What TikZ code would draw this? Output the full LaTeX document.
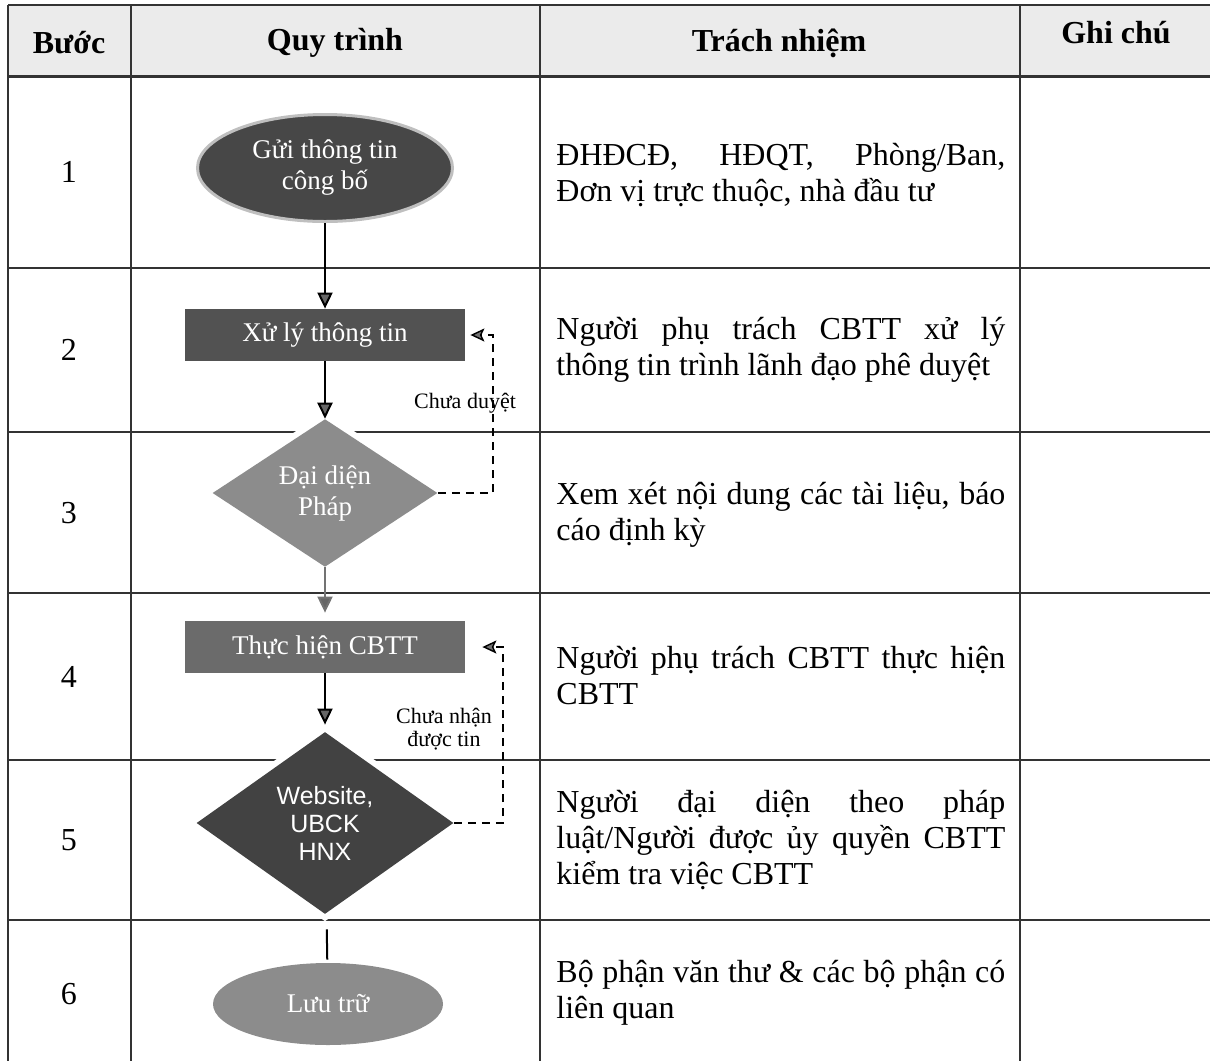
\documentclass[tikz,border=0pt]{standalone}
\usepackage{fontspec}
\setmainfont{Liberation Serif}
\newfontfamily\arialfont{Liberation Sans}
\usepackage{tikz}
\usetikzlibrary{shapes.geometric}
\usetikzlibrary{arrows.meta}

\begin{document}
\begin{tikzpicture}
		[
		x=0.5pt, y=-0.5pt,
		font=\fontsize{16}{18}\selectfont
		]
		
		% Node styles: ovals, boxes and diamonds of the process
		\tikzstyle{oval node}=[ellipse,text=white,inner sep=0,align=center,font=\fontsize{13.5}{15.5}\selectfont];
		\tikzstyle{box node}=[rectangle,text=white,inner sep=0,align=center,minimum width=140pt,minimum height=26pt,font=\fontsize{13.5}{15.5}\selectfont];
		\tikzstyle{check node}=[diamond,text=white,inner sep=0,align=center,preaction={draw=white,line width=6pt},font=\fontsize{13.5}{15.5}\selectfont];
		\tikzstyle{duty text}=[anchor=west,inner sep=0,text width=224.5pt,align=justify];
		\tikzstyle{note text}=[inner sep=0,align=center,font=\fontsize{11}{11.5}\selectfont];
		
		% Connector styles
		\tikzstyle{flow line}=[line width=1pt,-{Triangle[length=8pt,width=7.5pt,fill=black!60]}];
		\tikzstyle{back line}=[line width=0.7pt,dash pattern=on 4pt off 3pt,-{Stealth[length=7pt,width=6.5pt,inset=1.5pt,fill=black!55]}];
		
		\useasboundingbox (0,0) rectangle (1210,1061);
		
		% The table
		\fill[black!8] (8,5) rectangle (1210,76);
		\foreach \y in {5,268,432,593,760,920} \draw[line width=1pt,black!80] (8,\y) -- (1210,\y);
		\draw[line width=1.5pt,black!80] (8,76) -- (1210,76);
		\foreach \x in {8,131,540,1020} \draw[line width=1pt,black!80] (\x,5) -- (\x,1061);
		
		% Header
		\node(step)[font=\bfseries\fontsize{16}{18}\selectfont] at (69,43){Bước};
		\node(flow)[font=\bfseries\fontsize{16}{18}\selectfont] at (335,43){Quy trình};
		\node(duty)[font=\bfseries\fontsize{16}{18}\selectfont] at (779,43){Trách nhiệm};
		\node(note)[font=\bfseries\fontsize{16}{18}\selectfont] at (1116,33){Ghi chú};
		
		% Step numbers
		\foreach \n/\y in {1/172,2/350,3/513,4/677,5/840,6/994} \node(n\n) at (69,\y){\n};
		
		% The process
		\node(send)[oval node,fill=black!72,draw=black!25,line width=1.5pt,minimum width=127.5pt,minimum height=53.5pt] at (325,168){Gửi thông tin\\công bố};
		\node(proc)[box node,fill=black!68] at (325,335){Xử lý thông tin};
		\node(legal)[check node,fill=black!45,minimum width=112.5pt,minimum height=68.5pt] at (325,493){Đại diện\\Pháp};
		\node(exec)[box node,fill=black!58] at (325,647){Thực hiện CBTT};
		\node(web)[check node,fill=black!74,minimum width=128.5pt,minimum height=91pt,font=\arialfont\fontsize{12.5}{14}\selectfont] at (325,823){Website,\\UBCK\\HNX};
		\node(store)[oval node,fill=black!45,minimum width=115pt,minimum height=41pt] at (328,1004){Lưu trữ};
		
		% Arrows
		\draw[flow line] (send) -- (proc);
		\draw[flow line] (proc) -- (legal);
		\draw[flow line,black!55,shorten >=4pt] (legal) -- (exec);
		\draw[flow line,shorten >=3.5pt] (exec) -- (web);
		\draw[line width=1pt,shorten <=8pt,shorten >=1.5pt] (web) -- (store);
		
		% Loops back
		\draw[back line,shorten >=2.5pt] (legal.east) -- ++(55,0) |- (proc.east);
		\draw[back line,shorten >=8.5pt] (web.east) -- ++(49,0) |- (exec.east);
		\node(nolegal)[note text] at (465,403){Chưa duyệt};
		\node(noweb)[note text] at (444,729){Chưa nhận\\được tin};
		
		% Who is responsible
		\node(d1)[duty text] at (556,175){ĐHĐCĐ, HĐQT, Phòng/Ban,\linebreak Đơn vị trực thuộc, nhà đầu tư};
		\node(d2)[duty text] at (556,350){Người phụ trách CBTT xử lý\linebreak thông tin trình lãnh đạo phê duyệt};
		\node(d3)[duty text] at (556,515){Xem xét nội dung các tài liệu, báo\linebreak cáo định kỳ};
		\node(d4)[duty text] at (556,676){Người phụ trách CBTT thực hiện\linebreak CBTT};
		\node(d5)[duty text] at (556,840){Người đại diện theo pháp\linebreak luật/Người được ủy quyền CBTT\linebreak kiểm tra việc CBTT};
		\node(d6)[duty text] at (556,993){Bộ phận văn thư \& các bộ phận có\linebreak liên quan};
		
\end{tikzpicture}
\end{document}
